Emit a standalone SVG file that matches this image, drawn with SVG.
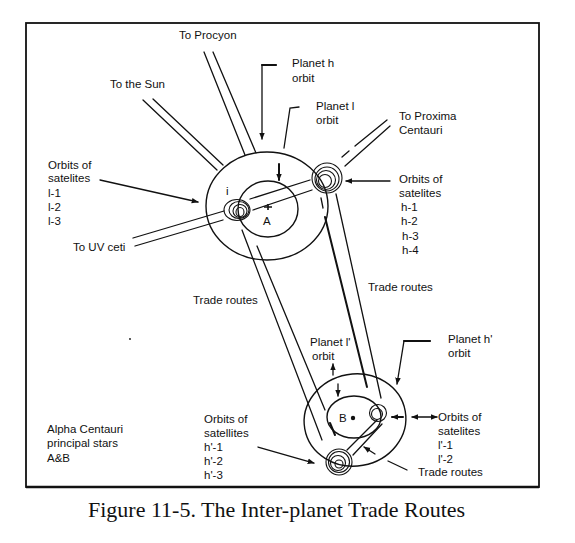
<svg xmlns="http://www.w3.org/2000/svg" width="575" height="543" viewBox="0 0 575 543">
<defs>
<style>
.ln{stroke:#111;stroke-width:1.3;fill:none;stroke-linecap:round}
.th{stroke-width:2}
.orb{stroke:#111;stroke-width:1.4;fill:none}
.sat{stroke:#111;stroke-width:1.1;fill:none}
.t{font-family:"Liberation Sans",Arial,Helvetica,sans-serif;font-size:11.5px;fill:#111}
.cap{font-family:"Liberation Serif","Times New Roman",serif;font-size:22px;fill:#111}
</style>
<marker id="ah" viewBox="0 0 10 10" refX="9" refY="5" markerWidth="7" markerHeight="7" markerUnits="userSpaceOnUse" orient="auto-start-reverse">
<path d="M0,1 L10,5 L0,9 z" fill="#111"/>
</marker>
</defs>
<rect x="0" y="0" width="575" height="543" fill="#fff"/>
<g id="frame">
<rect x="26" y="23" width="513" height="464" fill="none" stroke="#111" stroke-width="1.8"/>
<line x1="26" y1="487" x2="539" y2="487" stroke="#111" stroke-width="2.4"/>
</g>
<g id="connectors">
<line class="ln" x1="204" y1="52" x2="245" y2="155"/>
<line class="ln" x1="213" y1="52" x2="256" y2="153"/>
<line class="ln" x1="143" y1="100" x2="217" y2="170"/>
<line class="ln" x1="153" y1="99" x2="223" y2="165"/>
<line class="ln" x1="133" y1="238" x2="224" y2="211"/>
<line class="ln" x1="135" y1="246" x2="223" y2="220"/>
<line class="ln" x1="387" y1="120" x2="355" y2="146"/>
<line class="ln" x1="349" y1="151" x2="342" y2="157"/>
<line class="ln" x1="390" y1="126" x2="345" y2="166"/>
<line class="ln" x1="250" y1="199" x2="310" y2="180"/>
<line class="ln" x1="253" y1="210" x2="312" y2="190"/>
<line class="ln" x1="242" y1="230" x2="322" y2="440"/>
<line class="ln" x1="257" y1="246" x2="325" y2="410"/>
<line class="ln th" x1="330" y1="423" x2="335" y2="435"/>
<line class="ln" x1="321" y1="198" x2="323" y2="208"/>
<line class="ln th" x1="325" y1="217" x2="367" y2="387"/>
<line class="ln" x1="336" y1="194" x2="381" y2="398"/>
<line class="ln" x1="377" y1="420" x2="347" y2="450"/>
<line class="ln" x1="382" y1="424" x2="353" y2="455"/>
<polyline class="ln" points="276,65 262,65 262,139" marker-end="url(#ah)"/>
<line class="ln th" x1="262" y1="65" x2="276" y2="65"/>
<polyline class="ln" points="299,107 290,108 284,148"/>
<line class="ln th" x1="279" y1="164" x2="279" y2="180" marker-end="url(#ah)"/>
<line class="ln" x1="100" y1="180" x2="198" y2="202" marker-end="url(#ah)"/>
<line class="ln" x1="390" y1="181" x2="346" y2="181" marker-end="url(#ah)"/>
<line class="ln" x1="333" y1="375" x2="333" y2="364" marker-end="url(#ah)"/>
<line class="ln" x1="338" y1="384" x2="338" y2="396" marker-end="url(#ah)"/>
<polyline class="ln" points="430,341 404,341 397,384" marker-end="url(#ah)"/>
<line class="ln th" x1="404" y1="341" x2="430" y2="341"/>
<line class="ln th" x1="403" y1="417" x2="392" y2="417" marker-end="url(#ah)"/>
<line class="ln" x1="412" y1="417" x2="437" y2="417" marker-start="url(#ah)" marker-end="url(#ah)"/>
<line class="ln" x1="388" y1="461" x2="407" y2="470"/>
<line class="ln" x1="375" y1="454" x2="364" y2="447" marker-end="url(#ah)"/>
<line class="ln" x1="258" y1="447" x2="314" y2="463" marker-end="url(#ah)"/>
</g>
<g id="star-A">
<ellipse class="orb" cx="267" cy="206" rx="61" ry="54"/>
<ellipse class="orb" cx="268" cy="209" rx="30" ry="28"/>
<path d="M264,207 L272,207 M268,204 L268,210" stroke="#111" stroke-width="1.6"/>
<text class="t" x="263" y="225">A</text>
</g>
<g id="satellite-i">
<ellipse class="sat" cx="237" cy="210" rx="13" ry="10.5"/>
<ellipse class="sat" cx="239" cy="210" rx="10" ry="8.5"/>
<ellipse class="sat" cx="240" cy="211" rx="7" ry="6.5"/>
<ellipse class="sat" cx="240" cy="212" rx="4" ry="4.5"/>
<text class="t" x="226" y="195">i</text>
</g>
<g id="satellite-h">
<circle class="sat" cx="327" cy="178" r="15"/>
<circle class="sat" cx="327" cy="179" r="12"/>
<circle class="sat" cx="326" cy="180" r="9.5"/>
<circle class="sat" cx="325" cy="181" r="6.5"/>
</g>
<g id="star-B">
<ellipse class="orb" cx="355" cy="420" rx="51" ry="46" transform="rotate(-10 355 420)"/>
<ellipse class="orb" cx="354" cy="417" rx="27" ry="21" stroke-width="1.9"/>
<circle cx="353" cy="418" r="2.2" fill="#111"/>
<text class="t" x="339" y="422">B</text>
</g>
<g id="satellite-l2">
<circle class="sat" cx="378" cy="413" r="8.5"/>
<circle class="sat" cx="377" cy="414" r="5.5"/>
</g>
<g id="satellite-h2">
<circle class="sat" cx="339" cy="462" r="13"/>
<circle class="sat" cx="339" cy="462" r="10.5"/>
<circle class="sat" cx="338" cy="463" r="7.5"/>
<circle class="sat" cx="339" cy="464" r="4"/>
</g>
<g id="label-procyon"><text class="t" x="179" y="39">To Procyon</text></g>
<g id="label-sun"><text class="t" x="110" y="88">To the Sun</text></g>
<g id="label-uvceti"><text class="t" x="73" y="251">To UV ceti</text></g>
<g id="label-proxima"><text class="t" x="399" y="120">To Proxima</text><text class="t" x="399" y="134">Centauri</text></g>
<g id="label-planet-h"><text class="t" x="292" y="67">Planet h</text><text class="t" x="292" y="82">orbit</text></g>
<g id="label-planet-i"><text class="t" x="316" y="110">Planet l</text><text class="t" x="316" y="124">orbit</text></g>
<g id="label-sat-l">
<text class="t" x="48" y="169">Orbits of</text>
<text class="t" x="48" y="182">satelites</text>
<text class="t" x="48" y="197">l-1</text>
<text class="t" x="48" y="211">l-2</text>
<text class="t" x="48" y="225">l-3</text>
</g>
<g id="label-sat-h">
<text class="t" x="399" y="183">Orbits of</text>
<text class="t" x="399" y="197">satelites</text>
<text class="t" x="401" y="211">h-1</text>
<text class="t" x="401" y="225">h-2</text>
<text class="t" x="402" y="240">h-3</text>
<text class="t" x="402" y="254">h-4</text>
</g>
<g id="label-trade-left"><text class="t" x="193" y="304">Trade routes</text></g>
<g id="label-trade-right"><text class="t" x="368" y="291">Trade routes</text></g>
<g id="label-planet-l2"><text class="t" x="310" y="346">Planet l'</text><text class="t" x="312" y="360">orbit</text></g>
<g id="label-planet-h2"><text class="t" x="448" y="343">Planet h'</text><text class="t" x="448" y="357">orbit</text></g>
<g id="label-sat-l2">
<text class="t" x="438" y="421">Orbits of</text>
<text class="t" x="438" y="435">satelites</text>
<text class="t" x="438" y="449">l'-1</text>
<text class="t" x="438" y="463">l'-2</text>
</g>
<g id="label-trade-bottom"><text class="t" x="418" y="476">Trade routes</text></g>
<g id="label-sat-h2">
<text class="t" x="204" y="423">Orbits of</text>
<text class="t" x="204" y="437">satellites</text>
<text class="t" x="204" y="451">h'-1</text>
<text class="t" x="204" y="465">h'-2</text>
<text class="t" x="204" y="479">h'-3</text>
</g>
<g id="label-alpha">
<text class="t" x="47" y="433">Alpha Centauri</text>
<text class="t" x="47" y="447">principal stars</text>
<text class="t" x="47" y="462">A&amp;B</text>
</g>
<circle cx="130" cy="339" r="0.9" fill="#111"/>
<g id="caption"><text class="cap" x="88" y="517">Figure 11-5. The Inter-planet Trade Routes</text></g>
</svg>
